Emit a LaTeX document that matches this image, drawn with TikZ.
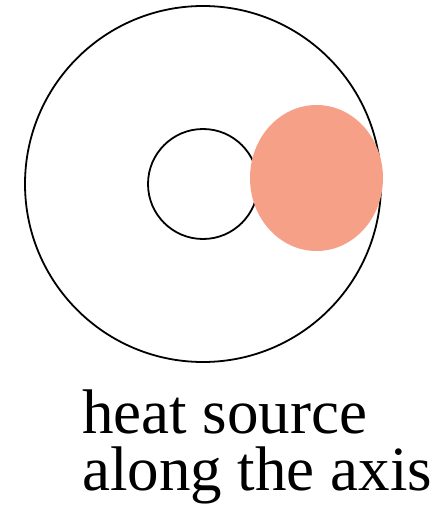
\documentclass[tikz,border=0pt]{standalone}
\usepackage{fontspec}
\setmainfont{Liberation Serif}
\definecolor{salmon}{HTML}{F6A088}
\begin{document}
\begin{tikzpicture}[x=1pt,y=-1pt,
  ring/.style={draw=black,line width=1.8pt},
  hot/.style={fill=salmon,draw=none},
  lbl/.style={anchor=base west,inner sep=0pt,font=\fontsize{63}{57}\selectfont}]
\useasboundingbox (0,0) rectangle (441,513);
\draw[ring] (203,184) circle (178);
\draw[ring] (203,184) circle (55);
\fill[hot] (316.5,178) ellipse (66.5 and 73);
\node[lbl] (l1) at (82,433) {heat source};
\node[lbl] (l2) at (82,490) {along the axis};
\end{tikzpicture}
\end{document}
